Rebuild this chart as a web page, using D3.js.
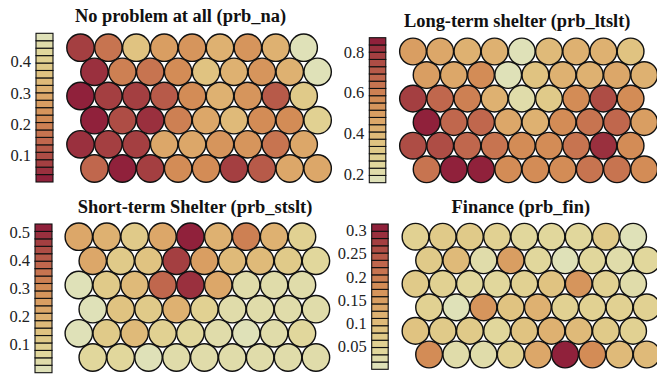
<!DOCTYPE html>
<html>
<head>
<meta charset="utf-8">
<script src="https://cdn.jsdelivr.net/npm/d3@7"></script>
<style>
  html, body { margin: 0; padding: 0; background: #ffffff; }
  svg { display: block; }
</style>
</head>
<body>
<svg id="chart" width="657" height="377"></svg>
<script>
// Self-organising map property plots: 9 x 6 hexagonal grid of nodes, one panel per variable.
const gridCols = 9;
const gridRows = 6;

// Node values, listed row by row from the top row of the map.
const naValues = [
  [0.085, 0.16, 0.37, 0.27, 0.23, 0.32, 0.23, 0.32, 0.491],
  [0.06, 0.19, 0.17, 0.205, 0.36, 0.31, 0.23, 0.31, 0.48],
  [0.014, 0.07, 0.085, 0.115, 0.22, 0.32, 0.24, 0.115, 0.39],
  [0.02, 0.095, 0.04, 0.20, 0.28, 0.33, 0.21, 0.21, 0.40],
  [0.06, 0.07, 0.085, 0.28, 0.28, 0.24, 0.23, 0.17, 0.285],
  [0.14, 0.03, 0.065, 0.22, 0.22, 0.085, 0.12, 0.28, 0.29]
];
const ltsltValues = [
  [0.49, 0.46, 0.42, 0.42, 0.157, 0.385, 0.41, 0.41, 0.37],
  [0.51, 0.45, 0.56, 0.17, 0.36, 0.42, 0.44, 0.47, 0.42],
  [0.78, 0.68, 0.60, 0.41, 0.21, 0.30, 0.55, 0.76, 0.56],
  [0.869, 0.68, 0.66, 0.47, 0.43, 0.56, 0.65, 0.66, 0.51],
  [0.76, 0.73, 0.68, 0.63, 0.55, 0.55, 0.62, 0.81, 0.56],
  [0.65, 0.85, 0.86, 0.58, 0.56, 0.58, 0.63, 0.65, 0.55]
];
const stsltValues = [
  [0.23, 0.20, 0.12, 0.22, 0.531, 0.20, 0.32, 0.20, 0.08],
  [0.23, 0.12, 0.15, 0.47, 0.25, 0.16, 0.16, 0.12, 0.065],
  [0.0, 0.12, 0.16, 0.38, 0.48, 0.23, 0.045, 0.035, 0.045],
  [0.015, 0.15, 0.12, 0.21, 0.10, 0.03, 0.03, 0.035, 0.035],
  [0.01, 0.11, 0.16, 0.10, 0.055, 0.03, 0.02, 0.03, 0.075],
  [0.055, 0.055, 0.005, 0.05, 0.05, 0.03, 0.035, 0.035, 0.03]
];
const finValues = [
  [0.048, 0.064, 0.067, 0.054, 0.039, 0.045, 0.042, 0.079, 0.014],
  [0.073, 0.101, 0.032, 0.142, 0.039, 0.001, 0.039, 0.029, 0.045],
  [0.073, 0.054, 0.039, 0.042, 0.051, 0.089, 0.173, 0.048, 0.017],
  [0.048, 0.003, 0.167, 0.089, 0.123, 0.051, 0.057, 0.054, 0.048],
  [0.089, 0.064, 0.07, 0.039, 0.089, 0.12, 0.11, 0.067, 0.054],
  [0.176, 0.026, 0.02, 0.054, 0.139, 0.314, 0.179, 0.101, 0.101]
];

// Panel titles and colour-key tick labels.
const panelTitles = [
  "No problem at all (prb_na)",
  "Long-term shelter (prb_ltslt)",
  "Short-term Shelter (prb_stslt)",
  "Finance (prb_fin)"
];
const naTicks = [0.1, 0.2, 0.3, 0.4];
const ltsltTicks = [0.2, 0.4, 0.6, 0.8];
const stsltTicks = [0.1, 0.2, 0.3, 0.4, 0.5];
const finTicks = [0.05, 0.1, 0.15, 0.2, 0.25, 0.3];

// 20-step key, pale yellow through orange to crimson.
const nColors = 20;
const ramp = d3.piecewise(d3.interpolateRgb, [
  "#dfe3bf", "#e1d597", "#e0c27f", "#dca668", "#d38d56", "#c26a4e", "#a84442", "#8b1a3a"
]);
const palette = d3.range(nColors).map(i => ramp((i + 0.5) / nColors));

// Layout of each panel: grid origin/spacing, key box and title position.
const panels = [
  { values: naValues, ticks: naTicks, reverse: true,
    gx: 80.5, gy: 47.7, u: 27.9, keyX: 36, keyW: 17, keyTop: 33.3, keyBottom: 182, titleX: 180.5, titleY: 21.5 },
  { values: ltsltValues, ticks: ltsltTicks, reverse: false,
    gx: 413, gy: 51.5, u: 27.2, keyX: 369.3, keyW: 16.5, keyTop: 37.7, keyBottom: 182.7, titleX: 517.2, titleY: 27 },
  { values: stsltValues, ticks: stsltTicks, reverse: false,
    gx: 78.8, gy: 236.7, u: 27.9, keyX: 35, keyW: 17, keyTop: 224, keyBottom: 372.7, titleX: 195, titleY: 213 },
  { values: finValues, ticks: finTicks, reverse: false,
    gx: 415.5, gy: 236.7, u: 27.2, keyX: 371.7, keyW: 16.5, keyTop: 224, keyBottom: 369.3, titleX: 520.8, titleY: 213 }
];

const svg = d3.select("#chart");
const serif = "'Liberation Serif', 'Times New Roman', Times, serif";

panels.forEach((p, idx) => {
  const flat = [];
  p.values.forEach((row, r) => row.forEach((v, c) => flat.push({ r, c, v })));
  const extent = d3.extent(flat, d => d.v);
  const colors = p.reverse ? palette.slice().reverse() : palette;
  const color = d3.scaleQuantize().domain(extent).range(colors);

  const dy = p.u * Math.sqrt(3) / 2;
  const x = d3.scaleLinear().domain([0, gridCols - 1]).range([p.gx, p.gx + (gridCols - 1) * p.u]);
  const y = d3.scaleLinear().domain([0, gridRows - 1]).range([p.gy, p.gy + (gridRows - 1) * dy]);

  const g = svg.append("g");

  // Map nodes: odd rows shifted half a node to the right.
  g.selectAll("circle.node")
    .data(flat)
    .join("circle")
    .attr("class", "node")
    .attr("cx", d => x(d.c + (d.r % 2) * 0.5))
    .attr("cy", d => y(d.r))
    .attr("r", p.u / 2 - 0.25)
    .attr("fill", d => color(d.v))
    .attr("stroke", "#111")
    .attr("stroke-width", 1.4);

  // Colour key.
  const keyScale = d3.scaleLinear().domain(extent).range([p.keyBottom, p.keyTop]);
  const step = (extent[1] - extent[0]) / nColors;
  g.selectAll("rect.key")
    .data(d3.range(nColors))
    .join("rect")
    .attr("class", "key")
    .attr("x", p.keyX)
    .attr("y", i => keyScale(extent[0] + (i + 1) * step))
    .attr("width", p.keyW)
    .attr("height", i => keyScale(extent[0] + i * step) - keyScale(extent[0] + (i + 1) * step))
    .attr("fill", i => colors[i])
    .attr("stroke", "#111")
    .attr("stroke-width", 1.1);

  const axis = d3.axisLeft(keyScale)
    .tickValues(p.ticks)
    .tickFormat(d => String(d))
    .tickSize(0)
    .tickPadding(5);
  const ax = g.append("g")
    .attr("transform", `translate(${p.keyX},0)`)
    .call(axis);
  ax.select(".domain").remove();
  ax.selectAll("text")
    .attr("font-family", serif)
    .attr("font-size", 16.5)
    .attr("fill", "#222");

  // Title.
  g.append("text")
    .attr("x", p.titleX)
    .attr("y", p.titleY)
    .attr("text-anchor", "middle")
    .attr("font-family", serif)
    .attr("font-weight", "bold")
    .attr("font-size", 18.4)
    .attr("fill", "#111")
    .text(panelTitles[idx]);
});
</script>
</body>
</html>
